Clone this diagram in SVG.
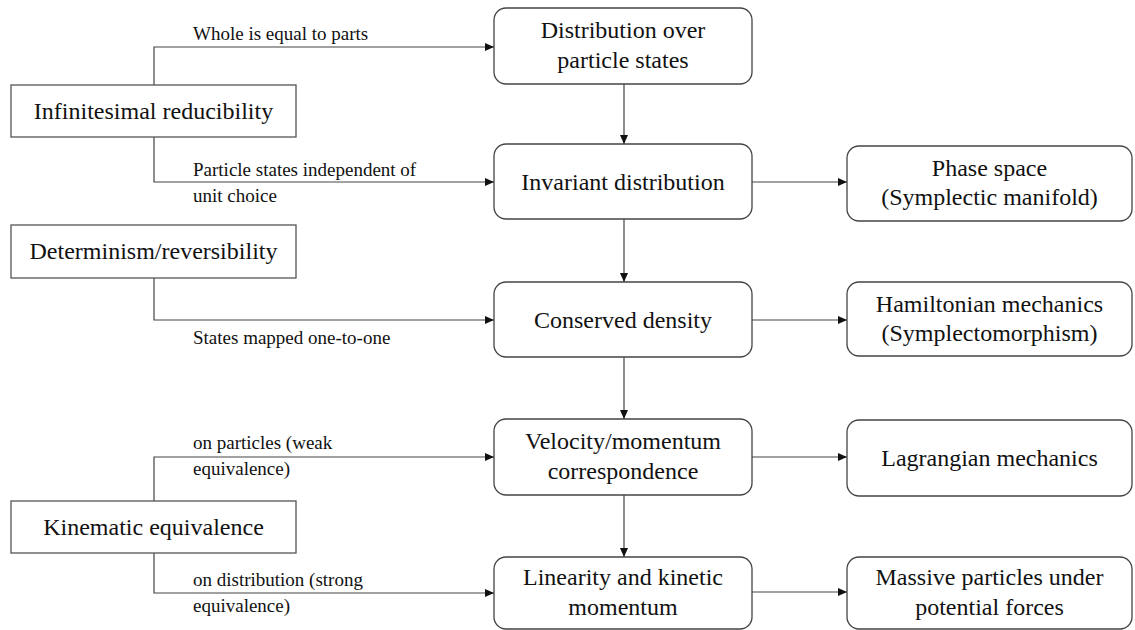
<svg xmlns="http://www.w3.org/2000/svg" width="1135" height="630" viewBox="0 0 1135 630">
<defs>
<style>
.sq{fill:#fff;stroke:#555;stroke-width:1.3}
.rd{fill:#fff;stroke:#444;stroke-width:1.3}
.t{font-family:"Liberation Serif","Times New Roman",serif;font-size:24px;fill:#111;text-anchor:middle}
.lb{font-family:"Liberation Serif","Times New Roman",serif;font-size:19px;fill:#111}
.c{fill:none;stroke:#444;stroke-width:1.2}
</style>
<marker id="ah" markerUnits="userSpaceOnUse" markerWidth="10" markerHeight="8" refX="9" refY="4" orient="auto">
<path d="M0,0 L9,4 L0,8 Z" fill="#111"/>
</marker>
</defs>
<rect width="1135" height="630" fill="#fff"/>

<g id="connectors">
<path class="c" d="M154,85 V47 H494" marker-end="url(#ah)"/>
<path class="c" d="M154,137 V182 H494" marker-end="url(#ah)"/>
<path class="c" d="M154,278 V320 H494" marker-end="url(#ah)"/>
<path class="c" d="M154,501 V457 H494" marker-end="url(#ah)"/>
<path class="c" d="M154,553 V593 H494" marker-end="url(#ah)"/>
<path class="c" d="M624,84 V144" marker-end="url(#ah)"/>
<path class="c" d="M624,219 V282" marker-end="url(#ah)"/>
<path class="c" d="M624,357 V419" marker-end="url(#ah)"/>
<path class="c" d="M624,495 V557" marker-end="url(#ah)"/>
<path class="c" d="M752,182 H847" marker-end="url(#ah)"/>
<path class="c" d="M752,320 H847" marker-end="url(#ah)"/>
<path class="c" d="M752,457 H847" marker-end="url(#ah)"/>
<path class="c" d="M752,592 H847" marker-end="url(#ah)"/>
<text class="lb" x="193" y="40">Whole is equal to parts</text>
<text class="lb" x="193" y="176">Particle states independent of</text>
<text class="lb" x="193" y="202">unit choice</text>
<text class="lb" x="193" y="344">States mapped one-to-one</text>
<text class="lb" x="193" y="449">on particles (weak</text>
<text class="lb" x="193" y="475">equivalence)</text>
<text class="lb" x="193" y="586">on distribution (strong</text>
<text class="lb" x="193" y="612">equivalence)</text>
</g>

<g id="infinitesimal">
<rect class="sq" x="11" y="85" width="285" height="52"/>
<text class="t" x="153.5" y="119">Infinitesimal reducibility</text>
</g>
<g id="determinism">
<rect class="sq" x="11" y="225" width="285" height="53"/>
<text class="t" x="153.5" y="259">Determinism/reversibility</text>
</g>
<g id="kinematic">
<rect class="sq" x="11" y="501" width="285" height="52"/>
<text class="t" x="153.5" y="535">Kinematic equivalence</text>
</g>

<g id="distribution">
<rect class="rd" x="494" y="8" width="258" height="76" rx="12"/>
<text class="t" x="623" y="38">Distribution over</text>
<text class="t" x="623" y="68">particle states</text>
</g>
<g id="invariant">
<rect class="rd" x="494" y="144" width="258" height="75" rx="12"/>
<text class="t" x="623" y="190">Invariant distribution</text>
</g>
<g id="conserved">
<rect class="rd" x="494" y="282" width="258" height="75" rx="12"/>
<text class="t" x="623" y="328">Conserved density</text>
</g>
<g id="velocity">
<rect class="rd" x="494" y="419" width="258" height="76" rx="12"/>
<text class="t" x="623" y="449">Velocity/momentum</text>
<text class="t" x="623" y="479">correspondence</text>
</g>
<g id="linearity">
<rect class="rd" x="494" y="557" width="258" height="72" rx="12"/>
<text class="t" x="623" y="585">Linearity and kinetic</text>
<text class="t" x="623" y="615">momentum</text>
</g>

<g id="phase">
<rect class="rd" x="847" y="146" width="285" height="75" rx="12"/>
<text class="t" x="989.5" y="176">Phase space</text>
<text class="t" x="989.5" y="205">(Symplectic manifold)</text>
</g>
<g id="hamiltonian">
<rect class="rd" x="847" y="282" width="285" height="74" rx="12"/>
<text class="t" x="989.5" y="312">Hamiltonian mechanics</text>
<text class="t" x="989.5" y="341">(Symplectomorphism)</text>
</g>
<g id="lagrangian">
<rect class="rd" x="847" y="420" width="285" height="76" rx="12"/>
<text class="t" x="989.5" y="466">Lagrangian mechanics</text>
</g>
<g id="massive">
<rect class="rd" x="847" y="557" width="285" height="72" rx="12"/>
<text class="t" x="989.5" y="585">Massive particles under</text>
<text class="t" x="989.5" y="615">potential forces</text>
</g>
</svg>
